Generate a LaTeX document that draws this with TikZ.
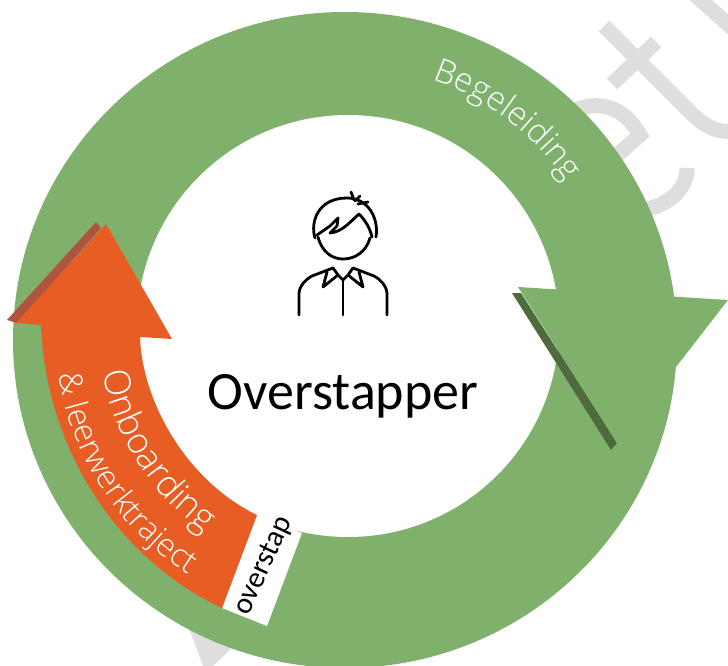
\documentclass[tikz,border=0pt]{standalone}
\usepackage{fontspec}
\setmainfont{Carlito}
\newfontfamily\lightfont{Open Sans Light}
\usetikzlibrary{decorations.text}
\definecolor{ringgreen}{HTML}{7FB16C}
\definecolor{darkgreen}{HTML}{4E6B3D}
\definecolor{arroworange}{HTML}{E85D24}
\definecolor{darkred}{HTML}{AE5440}
\definecolor{wmgray}{HTML}{DEDEDE}
\tikzset{
  ringfill/.style={fill=ringgreen,draw=none},
  wmark/.style={draw=wmgray,line width=15pt,line cap=butt},
  icon/.style={draw=black,line width=2.8pt,line cap=round,line join=round},
}
\begin{document}
\begin{tikzpicture}[x=1pt,y=-1pt]
\useasboundingbox (0,0) rectangle (728,666);
\clip (0,0) rectangle (728,666);
\fill[white] (0,0) rectangle (728,666);
% watermark
\draw[wmark] (604,26) -- (690,112) .. controls (705,127) and (720,135) .. (740,130);
\draw[wmark] (656,42) -- (612,84);
\draw[wmark] (695,-5) -- (740,35);
\draw[wmark] (570,112) .. controls (600,98) and (625,108) .. (640,135) -- (600,170);
\draw[wmark] (687,168) .. controls (688,190) and (665,208) .. (640,210);
\fill[wmgray] (189,628) -- (203,666) -- (213,666) -- (240,640) -- cycle;
% green ring
\path[ringfill] (345,340) ellipse[x radius=332,y radius=328];
\fill[white] (348,326) circle[radius=211];
% green arrowhead with shadow
\fill[darkgreen] (512,293) -- (521,293) -- (617,443) -- (611,450) -- cycle;
\path[ringfill] (518,287) -- (728,300) -- (617,443) -- cycle;
% overstap band
\fill[white] (222,608) -- (267,626) -- (302,533) -- (257,515) -- cycle;
% orange arrow
\fill[darkred] (7,320) -- (96,222) -- (101,228) -- (17,323) -- cycle;
\fill[arroworange] (222,608) .. controls (110,555) and (45,440) .. (41,325)
  -- (16,323) -- (106,224) -- (172,339) -- (140,337)
  .. controls (142,400) and (185,480) .. (257,515) -- cycle;
% labels along the ring
\path[decorate,decoration={text along path,text align=center,
   text={|\lightfont\fontsize{33}{33}\selectfont\color{white}|Begeleiding}}]
   ({346+265*cos(-72)},{330+265*sin(-72)}) arc[start angle=72,end angle=33,radius=265pt];
\path[decorate,decoration={text along path,text align=center,
   text={|\lightfont\fontsize{36}{36}\selectfont\color{white}|Onboarding}}]
   ({346+247*cos(171)},{330+247*sin(171)}) arc[start angle=189,end angle=236,radius=247pt];
\path[decorate,decoration={text along path,text align=center,
   text={|\lightfont\fontsize{32}{32}\selectfont\color{white}|{\&} leerwerktraject}}]
   ({346+291*cos(172)},{330+291*sin(172)}) arc[start angle=188,end angle=238,radius=291pt];
\node[rotate=65,text=black,font=\fontsize{30}{30}\selectfont,inner sep=0pt] (overstap) at (264,566) {overstap};
\node[text=black,font=\fontsize{54}{54}\selectfont,inner sep=0pt] (title) at (343,396) {Overstapper};
% person icon
\draw[icon] (318,237) .. controls (322,252) and (332,259) .. (343,259) .. controls (355,259) and (366,252) .. (370,238);
\draw[icon] (315,238) .. controls (310,222) and (318,198) .. (347,198) .. controls (368,198) and (379,218) .. (376,237);
\draw[icon] (317,235) -- (330,226) -- (338,218) -- (337,226) -- (330,233) .. controls (342,232) and (350,222) .. (359,214) .. controls (365,220) and (370,228) .. (372,237);
\draw[icon] (351,192) -- (354,200);
\draw[icon] (358,204) -- (368,202);
\draw[icon] (355,201) -- (360,196);
\draw[icon] (299,315) -- (299,293) .. controls (300,285) and (305,280) .. (312,276) -- (333,268);
\draw[icon] (387,315) -- (387,293) .. controls (386,285) and (381,280) .. (374,276) -- (353,268);
\draw[icon] (333,268) -- (338,275) -- (323,287) -- (327,272);
\draw[icon] (353,268) -- (348,275) -- (363,287) -- (359,272);
\draw[icon] (338,275) -- (343,280) -- (348,275);
\draw[icon] (343,280) -- (343,315);
\end{tikzpicture}
\end{document}
